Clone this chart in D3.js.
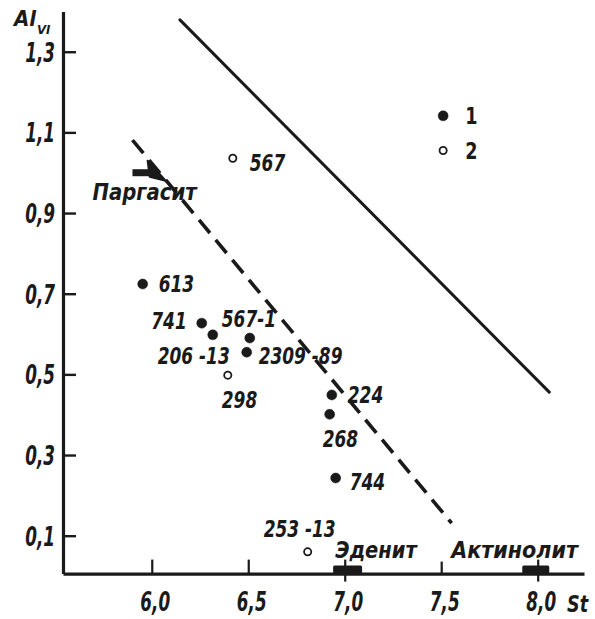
<!DOCTYPE html>
<html><head><meta charset="utf-8">
<script src="https://cdn.jsdelivr.net/npm/d3@7"></script>
<style>
html,body{margin:0;padding:0;background:#fff;}
text{font-family:"Liberation Sans Narrow","DejaVu Sans Condensed","Liberation Sans",sans-serif;font-style:italic;font-weight:bold;fill:#1a1a1a;}
</style></head>
<body>
<svg id="c" width="595" height="619"></svg>
<script>
// ---- data ----
const sampleLabels = ["567","613","741","206 -13","567-1","2309 -89","298","224","268","744","253 -13"];
const sampleSt     = [6.42, 5.953, 6.259, 6.316, 6.508, 6.492, 6.394, 6.933, 6.922, 6.953, 6.808];
const sampleAl     = [1.036, 0.724, 0.627, 0.598, 0.590, 0.555, 0.498, 0.449, 0.401, 0.243, 0.060];
const sampleType   = [2, 1, 1, 1, 1, 1, 2, 1, 1, 1, 2];   // 1 = filled, 2 = open
const xTicks = [6.0, 6.5, 7.0, 7.5, 8.0];
const xTickLabels = ["6,0","6,5","7,0","7,5","8,0"];
const yTicks = [0.1, 0.3, 0.5, 0.7, 0.9, 1.1, 1.3];
const yTickLabels = ["0,1","0,3","0,5","0,7","0,9","1,1","1,3"];
const solidLine  = [[6.146, 1.379], [8.06, 0.456]];
const dashedLine = [[5.90, 1.081], [7.554, 0.131]];
const mineralNames = ["Паргасит","Эденит","Актинолит"];
const mineralStFrom = [5.90, 6.94, 7.92];
const mineralStTo   = [6.02, 7.09, 8.06];
const legendLabels = ["1","2"];

// ---- layout ----
const svg = d3.select("#c");
const x = d3.scaleLinear().domain([5.54, 8.24]).range([63, 584]);
const y = d3.scaleLinear().domain([0.006, 1.4]).range([573.6, 11.4]);
const ink = "#1a1a1a";
function squeeze(sel, k){
  sel.each(function(){
    const w = this.getComputedTextLength();
    this.setAttribute("textLength", (w*k).toFixed(2));
    this.setAttribute("lengthAdjust","spacingAndGlyphs");
  });
  return sel;
}

// y axis
const yAxis = d3.axisLeft(y).tickValues(yTicks).tickSize(-13).tickSizeOuter(0)
  .tickFormat((d,i)=>yTickLabels[i]);
const gy = svg.append("g").attr("transform","translate(63,0)").call(yAxis);
gy.select(".domain").attr("stroke",ink).attr("stroke-width",3.2);
gy.selectAll(".tick line").attr("stroke",ink).attr("stroke-width",2.4);
squeeze(gy.selectAll(".tick text").attr("x",-8).attr("dy","0.36em").attr("font-size",26)
  .style("font-family",null).attr("fill",ink), 0.72);

// x axis
const xAxis = d3.axisBottom(x).tickValues(xTicks).tickSize(-14).tickSizeOuter(0)
  .tickFormat((d,i)=>xTickLabels[i]);
const gx = svg.append("g").attr("transform",`translate(0,${y(0.006)})`).call(xAxis);
gx.select(".domain").attr("stroke",ink).attr("stroke-width",3.2);
gx.selectAll(".tick line").attr("stroke",ink).attr("stroke-width",2.2);
squeeze(gx.selectAll(".tick text").attr("x",3).attr("y",37).attr("dy",0).attr("font-size",26)
  .style("font-family",null).attr("fill",ink), 0.72);
gx.selectAll(".tick").filter(d=>d===7.0||d===8.0).append("line")
  .attr("y1",0).attr("y2",8).attr("stroke",ink).attr("stroke-width",2.2);
gx.selectAll(".tick").filter(d=>d===7.5).select("line").attr("y2",-12);

// axis titles
svg.append("text").attr("x",14).attr("y",26).attr("font-size",22).text("Al");
svg.append("text").attr("x",37).attr("y",34).attr("font-size",13).text("VI");
squeeze(svg.append("text").attr("x",567).attr("y",612).attr("font-size",23).text("St"), 0.85);

// lines
const line = d3.line().x(d=>x(d[0])).y(d=>y(d[1]));
svg.append("path").attr("d",line(solidLine)).attr("fill","none")
  .attr("stroke",ink).attr("stroke-width",3).attr("stroke-linecap","round");
svg.append("path").attr("d",line(dashedLine)).attr("fill","none")
  .attr("stroke",ink).attr("stroke-width",3.6).attr("stroke-dasharray","17,9");

// mineral markers
const yAxisPos = y(0.006);
{
  const x0 = x(mineralStFrom[0]), x1 = x(mineralStTo[0]), yy = y(1.0);
  svg.append("rect").attr("x",x0).attr("y",yy-3.5).attr("width",x1-x0-6).attr("height",7).attr("fill",ink);
  svg.append("path").attr("d",`M${x1-8},${yy-12} L${x1+10},${yy+8} L${x1-6},${yy+4} Z`)
    .attr("fill",ink).attr("stroke",ink).attr("stroke-width",2).attr("stroke-linejoin","round");
  squeeze(svg.append("text").attr("x",x0-40).attr("y",yy+27).attr("font-size",23).text(mineralNames[0]), 0.95);
}
[1,2].forEach(i=>{
  const x0 = x(mineralStFrom[i]), x1 = x(mineralStTo[i]);
  svg.append("rect").attr("x",x0).attr("y",yAxisPos-8).attr("width",x1-x0).attr("height",8)
    .attr("fill",ink).attr("rx",1.5);
});
squeeze(svg.append("text").attr("x",x(6.94)+2).attr("y",558).attr("font-size",23).text(mineralNames[1]), 0.94);
squeeze(svg.append("text").attr("x",x(7.5)+10).attr("y",558).attr("font-size",23).text(mineralNames[2]), 1.0);

// points
const labelOffsets = {
  "567":[17,13,"start"], "613":[16,8,"start"], "741":[-15,6,"end"],
  "206 -13":[-55,29,"start"], "567-1":[-28,-11,"start"], "2309 -89":[12,12,"start"],
  "298":[-6,33,"start"], "224":[16,8,"start"], "268":[-7,33,"start"],
  "744":[14,12,"start"], "253 -13":[-44,-15,"start"]
};
const pts = sampleLabels.map((l,i)=>({l, st:sampleSt[i], al:sampleAl[i], t:sampleType[i]}));
const g = svg.append("g");
g.selectAll("circle").data(pts).enter().append("circle")
  .attr("cx",d=>x(d.st)).attr("cy",d=>y(d.al))
  .attr("r",d=>d.t===1?5:3.6)
  .attr("fill",d=>d.t===1?ink:"#fff")
  .attr("stroke",ink).attr("stroke-width",d=>d.t===1?0.5:1.8);
squeeze(g.selectAll("text").data(pts).enter().append("text")
  .attr("x",d=>x(d.st)+labelOffsets[d.l][0]).attr("y",d=>y(d.al)+labelOffsets[d.l][1])
  .attr("text-anchor",d=>labelOffsets[d.l][2]).attr("font-size",23).text(d=>d.l), 0.82);

// legend
const legY = [1.141, 1.055];
legendLabels.forEach((lab,i)=>{
  svg.append("circle").attr("cx",x(7.51)).attr("cy",y(legY[i]))
    .attr("r",i===0?5:3.6).attr("fill",i===0?ink:"#fff").attr("stroke",ink).attr("stroke-width",i===0?0.5:1.8);
  squeeze(svg.append("text").attr("x",x(7.51)+22).attr("y",y(legY[i])+8).attr("font-size",23)
    .style("font-style","normal").text(lab), 0.85);
});
</script>
</body></html>
